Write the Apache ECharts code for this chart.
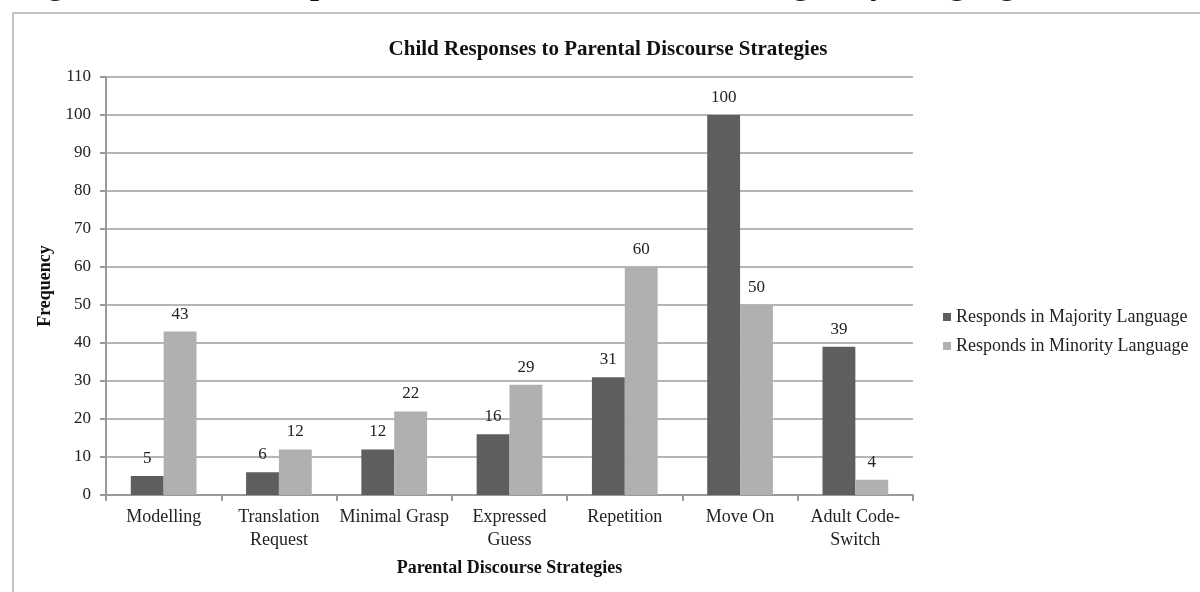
<!DOCTYPE html>
<html>
<head>
<meta charset="utf-8">
<script src="https://cdn.jsdelivr.net/npm/echarts@6/dist/echarts.min.js"></script>
<style>
  html, body { margin: 0; padding: 0; background: #fff; }
  #chart { width: 1200px; height: 592px; }
</style>
</head>
<body>
<div id="chart"></div>
<script>
var categories = ['Modelling', 'Translation\nRequest', 'Minimal Grasp', 'Expressed\nGuess', 'Repetition', 'Move On', 'Adult Code-\nSwitch'];
var majority = [5, 6, 12, 16, 31, 100, 39];
var minority = [43, 12, 22, 29, 60, 50, 4];
var seriesNames = ['Responds in Majority Language', 'Responds in Minority Language'];

var serif = '"Liberation Serif", "DejaVu Serif", serif';
var myChart = echarts.init(document.getElementById('chart'));

// shared label style
var valueLabel = { show: true, position: 'top', distance: 9, fontFamily: serif, fontSize: 17, color: '#222' };

var option = {
    backgroundColor: '#fff',
    animation: false,
    title: {
        text: 'Child Responses to Parental Discourse Strategies',
        left: 603,
        textAlign: 'center',
        top: 34,
        textStyle: { fontFamily: serif, fontSize: 21, fontWeight: 'bold', color: '#111' }
    },
    graphic: [
        {
            type: 'rect',
            shape: { x: 13, y: 13, width: 1200, height: 600 },
            style: { fill: 'none', stroke: '#c4c4c4', lineWidth: 2 },
            z: -1
        },
        {
            // figure caption of the page, cut off by the top edge
            type: 'text',
            x: 19,
            y: -14,
            style: {
                text: 'Figure 4.1: Child Responses to Parental Discourse Strategies by Language',
                font: 'bold 32px ' + serif,
                fill: '#111',
                verticalAlign: 'middle'
            }
        }
    ],
    legend: {
        orient: 'vertical',
        left: 938,
        top: 303,
        itemWidth: 8,
        itemHeight: 8,
        itemGap: 11,
        icon: 'rect',
        data: seriesNames,
        textStyle: { fontFamily: serif, fontSize: 18, color: '#222' }
    },
    grid: { left: 106, right: 287, top: 77, bottom: 97 },
    xAxis: {
        type: 'category',
        data: categories,
        name: 'Parental Discourse Strategies',
        nameLocation: 'middle',
        nameGap: 64,
        nameTextStyle: { fontFamily: serif, fontSize: 18, fontWeight: 'bold', color: '#111' },
        axisLine: { lineStyle: { color: '#9a9a9a', width: 2 } },
        axisTick: { show: true, length: 6, lineStyle: { color: '#9a9a9a', width: 2 } },
        axisLabel: { fontFamily: serif, fontSize: 18, color: '#222', margin: 11, lineHeight: 23, interval: 0 }
    },
    yAxis: {
        type: 'value',
        min: 0,
        max: 110,
        interval: 10,
        name: 'Frequency',
        nameLocation: 'middle',
        nameGap: 52,
        nameTextStyle: { fontFamily: serif, fontSize: 18, fontWeight: 'bold', color: '#111' },
        axisLine: { show: true, lineStyle: { color: '#9a9a9a', width: 2 } },
        axisTick: { show: true, length: 6, lineStyle: { color: '#9a9a9a', width: 2 } },
        axisLabel: { fontFamily: serif, fontSize: 17, color: '#222', margin: 15 },
        splitLine: { lineStyle: { color: '#b6b6b6', width: 2 } }
    },
    series: [
        {
            name: seriesNames[0],
            type: 'bar',
            data: majority,
            barGap: '0%',
            barCategoryGap: '43%',
            itemStyle: { color: '#5e5e5e' },
            label: valueLabel
        },
        {
            name: seriesNames[1],
            type: 'bar',
            data: minority,
            itemStyle: { color: '#b0b0b0' },
            label: valueLabel
        }
    ]
};

myChart.setOption(option);
</script>
</body>
</html>
